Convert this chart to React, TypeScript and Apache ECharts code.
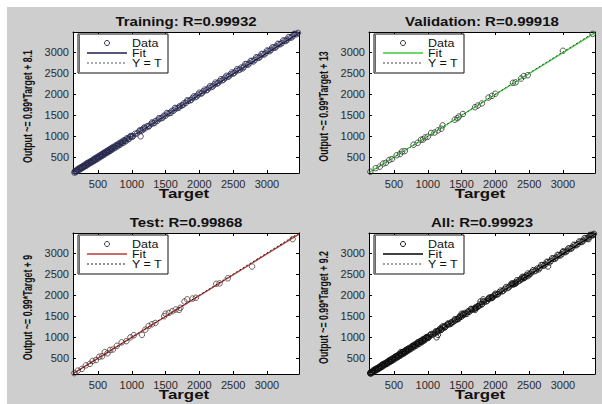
import React, { useEffect, useRef } from "react";
import * as echarts from "echarts";

const tickValues = [500, 1000, 1500, 2000, 2500, 3000];
const axisMin = 130;
const axisMax = 3475;

const titles = ["Training: R=0.99932", "Validation: R=0.99918", "Test: R=0.99868", "All: R=0.99923"];
const yLabels = [
  "Output ~= 0.99*Target + 8.1",
  "Output ~= 0.99*Target + 13",
  "Output ~= 0.99*Target + 9",
  "Output ~= 0.99*Target + 9.2",
];
const xLabel = "Target";
const legendNames = ["Data", "Fit", "Y = T"];

const trainingData: [number, number][] = [
  [150, 140], [165, 172], [180, 175], [195, 205], [210, 200], [225, 236], [240, 232], [255, 262],
  [270, 258], [285, 294], [300, 290], [315, 322], [330, 318], [345, 356], [360, 350], [375, 370],
  [390, 398], [405, 396], [420, 428], [435, 425], [450, 462], [465, 455], [480, 488], [495, 486],
  [510, 520], [525, 515], [540, 548], [555, 545], [570, 580], [585, 575], [600, 608], [615, 605],
  [630, 642], [645, 635], [660, 668], [675, 665], [690, 700], [705, 696], [720, 730], [740, 732],
  [760, 770], [780, 772], [800, 812], [820, 810], [840, 848], [860, 852], [880, 890], [900, 892],
  [925, 935], [950, 940], [975, 985], [1000, 1010], [1020, 1005], [1050, 1062], [1080, 1070],
  [1110, 1120], [1130, 1000], [1140, 1130], [1170, 1185], [1200, 1190], [1230, 1242], [1260, 1250],
  [1290, 1300], [1320, 1310], [1350, 1362], [1380, 1368], [1410, 1420], [1440, 1430], [1470, 1485],
  [1500, 1490], [1530, 1540], [1560, 1550], [1590, 1600], [1620, 1610], [1650, 1660], [1680, 1670],
  [1710, 1720], [1740, 1730], [1770, 1785], [1800, 1790], [1830, 1840], [1860, 1850], [1900, 1912],
  [1940, 1930], [1980, 1990], [2020, 2010], [2060, 2070], [2100, 2090], [2140, 2150], [2180, 2170],
  [2220, 2232], [2260, 2250], [2300, 2310], [2340, 2330], [2380, 2390], [2420, 2410], [2460, 2470],
  [2500, 2490], [2540, 2550], [2580, 2570], [2620, 2632], [2660, 2650], [2700, 2712], [2740, 2730],
  [2780, 2790], [2820, 2810], [2860, 2870], [2900, 2890], [2940, 2952], [2980, 2970], [3020, 3030],
  [3060, 3050], [3100, 3110], [3140, 3130], [3180, 3190], [3220, 3210], [3260, 3270], [3300, 3290],
  [3340, 3350], [3380, 3370], [3420, 3430], [3460, 3455],
  [158, 175], [172, 150], [188, 210], [203, 185], [218, 240], [233, 215], [248, 270], [263, 240],
  [278, 300], [293, 270], [308, 330], [323, 300], [338, 365], [353, 335], [368, 390], [383, 360],
  [398, 415], [413, 385], [428, 450], [443, 415], [458, 480], [473, 445], [488, 510], [503, 475],
  [518, 540], [533, 505], [548, 570], [563, 535], [578, 600], [593, 565], [608, 630], [623, 600],
  [638, 660], [653, 625], [668, 690], [683, 655], [698, 720], [713, 690], [728, 750], [748, 720],
  [768, 790], [788, 760], [808, 830], [828, 800], [848, 870], [868, 840], [888, 910], [908, 880],
  [930, 955], [955, 930], [980, 1005], [1005, 985],
  [1120, 1145], [1160, 1150], [1190, 1215], [1250, 1230], [1300, 1330], [1340, 1320], [1400, 1430],
  [1460, 1445], [1520, 1555], [1580, 1560], [1640, 1675], [1700, 1685], [1760, 1745], [1820, 1855],
  [1880, 1865], [1920, 1950], [1960, 1945], [2000, 2035], [2040, 2025], [2080, 2110], [2120, 2105],
  [2160, 2195], [2200, 2185], [2240, 2275], [2280, 2265], [2320, 2355], [2360, 2345], [2400, 2435],
  [2440, 2425], [2480, 2515], [2520, 2505], [2560, 2595], [2600, 2585], [2640, 2610], [2680, 2715],
  [2720, 2700], [2760, 2790], [2800, 2775], [2840, 2875], [2880, 2860], [2920, 2955], [2960, 2940],
  [3000, 3035], [3040, 3020], [3080, 3110], [3120, 3100], [3160, 3195], [3200, 3185], [3240, 3275],
  [3280, 3260], [3320, 3355], [3360, 3340], [3400, 3430], [3440, 3420],
];

const validationData: [number, number][] = [
  [150, 160], [230, 245], [290, 280], [340, 355], [380, 370], [430, 440], [470, 462], [540, 552],
  [590, 580], [620, 640], [660, 650], [790, 800], [850, 845], [900, 920], [930, 925], [960, 975],
  [1000, 990], [1050, 1080], [1100, 1090], [1150, 1140], [1200, 1180], [1220, 1260], [1400, 1395],
  [1440, 1430], [1460, 1470], [1520, 1530], [1700, 1690], [1740, 1730], [1800, 1780], [1900, 1920],
  [1950, 1960], [2000, 2010], [2260, 2270], [2300, 2280], [2380, 2370], [2420, 2430], [2480, 2450],
  [3000, 3030], [3440, 3430],
];

const testData: [number, number][] = [
  [150, 150], [200, 210], [260, 250], [320, 335], [380, 370], [420, 440], [470, 460], [520, 540],
  [560, 550], [600, 650], [640, 620], [680, 700], [720, 710], [780, 800], [850, 880], [920, 910],
  [980, 1000], [1030, 1050], [1150, 1060], [1200, 1180], [1250, 1270], [1300, 1310], [1350, 1340],
  [1480, 1500], [1500, 1560], [1550, 1580], [1600, 1620], [1650, 1660], [1700, 1650], [1720, 1700],
  [1780, 1850], [1820, 1900], [1900, 1920], [1950, 1940], [2250, 2270], [2300, 2280], [2420, 2400],
  [2780, 2680], [3380, 3330],
];

const allData: [number, number][] = [...trainingData, ...validationData, ...testData];

const fitTraining: [number, number][] = [[130, 137], [3475, 3448]];
const fitValidation: [number, number][] = [[130, 142], [3475, 3453]];
const fitTest: [number, number][] = [[130, 138], [3475, 3449]];
const fitAll: [number, number][] = [[130, 138], [3475, 3450]];
const identityLine: [number, number][] = [[130, 130], [3475, 3475]];

const FONT = "'Liberation Sans', Arial, sans-serif";

const panels = [
  { data: trainingData, fit: fitTraining, fitColor: "#1e1e48", dataColor: "#2a2a50", idColor: "#555566", rect: { left: 73, top: 32, width: 226, height: 141 } },
  { data: validationData, fit: fitValidation, fitColor: "#3ccc3c", dataColor: "#2a332a", idColor: "#444", rect: { left: 369, top: 32, width: 226, height: 141 } },
  { data: testData, fit: fitTest, fitColor: "#b43a3a", dataColor: "#4a3838", idColor: "#222", rect: { left: 73, top: 233, width: 226, height: 141 } },
  { data: allData, fit: fitAll, fitColor: "#000000", dataColor: "#111111", idColor: "#444", rect: { left: 369, top: 233, width: 226, height: 141 } },
];

function axis(gridIndex: number, position: string, showLabel: boolean, isX: boolean) {
  return {
    type: "value",
    gridIndex,
    position,
    min: axisMin,
    max: axisMax,
    axisLine: { show: true, onZero: false, lineStyle: { color: "#000", width: 1 } },
    axisTick: { show: true, inside: true, length: 3, customValues: tickValues, lineStyle: { color: "#000", width: 1 } },
    axisLabel: {
      show: showLabel,
      customValues: tickValues,
      formatter: (v: number) => String(v),
      fontSize: 11,
      fontFamily: FONT,
      color: "#2a2a2a",
      margin: isX ? 5 : 4,
    },
    splitLine: { show: false },
  };
}

function txt(text: string, x: number, y: number, size: number, bold: boolean, sx: number, sy = 1, rotation = 0, align = "center") {
  return {
    type: "text",
    x,
    y,
    rotation,
    scaleX: sx,
    scaleY: sy,
    z: 100,
    style: {
      text,
      fontSize: size,
      fontWeight: bold ? "bold" : "normal",
      fontFamily: FONT,
      fill: "#111",
      align,
      verticalAlign: "middle",
    },
  };
}

export default function App() {
  const ref = useRef<HTMLDivElement>(null);
  useEffect(() => {
    if (!ref.current) return;
    const chart = echarts.init(ref.current, null, { renderer: "svg" });

    const grids = panels.map((p) => ({
      ...p.rect,
      show: true,
      backgroundColor: "#ffffff",
      borderWidth: 0,
      containLabel: false,
    }));
    const xAxes: any[] = [];
    const yAxes: any[] = [];
    panels.forEach((_, i) => {
      xAxes.push(axis(i, "bottom", true, true));
      yAxes.push(axis(i, "left", true, false));
    });
    panels.forEach((_, i) => {
      xAxes.push(axis(i, "top", false, true));
      yAxes.push(axis(i, "right", false, false));
    });

    const series: any[] = [];
    panels.forEach((p, i) => {
      series.push({
        type: "scatter",
        name: legendNames[0],
        xAxisIndex: i,
        yAxisIndex: i,
        data: p.data,
        symbol: "circle",
        symbolSize: 5.5,
        itemStyle: { color: "rgba(0,0,0,0)", borderColor: p.dataColor, borderWidth: 1 },
        z: 2,
        silent: true,
      });
      series.push({
        type: "line",
        name: legendNames[1],
        xAxisIndex: i,
        yAxisIndex: i,
        data: p.fit,
        symbol: "none",
        lineStyle: { color: p.fitColor, width: 1.3 },
        z: 3,
        silent: true,
      });
      series.push({
        type: "line",
        name: legendNames[2],
        xAxisIndex: i,
        yAxisIndex: i,
        data: identityLine,
        symbol: "none",
        lineStyle: { color: p.idColor, width: 1, type: [2, 2] },
        z: 4,
        silent: true,
      });
    });

    const graphic: any[] = [
      { type: "rect", shape: { x: 0, y: 0, width: 602, height: 7 }, style: { fill: "#ffffff" }, z: 50 },
      { type: "rect", shape: { x: 0, y: 0, width: 7, height: 404 }, style: { fill: "#ffffff" }, z: 50 },
    ];
    panels.forEach((p, i) => {
      const { left, top, width, height } = p.rect;
      const cx = left + width / 2;
      graphic.push(txt(titles[i], cx, top - 10, 12, true, 1.25));
      graphic.push(txt(xLabel, cx - 2, top + height + 20, 13, true, 1.3));
      graphic.push(txt(yLabels[i], left - 46, top + height / 2 + 4, 11, true, 0.8, 1.15, Math.PI / 2));
      const lx = left + 5;
      const ly = top + 2;
      graphic.push({
        type: "rect",
        shape: { x: lx, y: ly, width: 90, height: 39 },
        style: { fill: "#ffffff", stroke: "#111", lineWidth: 1 },
        z: 90,
      });
      graphic.push({
        type: "line",
        shape: { x1: lx + 1.5, y1: ly + 1, x2: lx + 1.5, y2: ly + 38 },
        style: { stroke: "#666", lineWidth: 1 },
        z: 91,
      });
      graphic.push({
        type: "circle",
        shape: { cx: left + 34, cy: top + 11, r: 2.5 },
        style: { fill: "none", stroke: p.dataColor, lineWidth: 1 },
        z: 95,
      });
      graphic.push({
        type: "line",
        shape: { x1: left + 14, y1: top + 21, x2: left + 54, y2: top + 21 },
        style: { stroke: p.fitColor, lineWidth: 1.5 },
        z: 95,
      });
      graphic.push({
        type: "line",
        shape: { x1: left + 14, y1: top + 31, x2: left + 54, y2: top + 31 },
        style: { stroke: p.idColor, lineWidth: 1, lineDash: [2, 2] },
        z: 95,
      });
      legendNames.forEach((n, k) => {
        graphic.push(txt(n, left + 59, top + 11 + k * 10, 10, false, 1.25, 1, 0, "left"));
      });
    });

    chart.setOption({
      animation: false,
      backgroundColor: "#cecece",
      grid: grids,
      xAxis: xAxes,
      yAxis: yAxes,
      series,
      graphic,
    });
    return () => chart.dispose();
  }, []);
  return (
    <div
      ref={ref}
      style={{ position: "fixed", left: 0, top: 0, width: 602, height: 404 }}
    />
  );
}
